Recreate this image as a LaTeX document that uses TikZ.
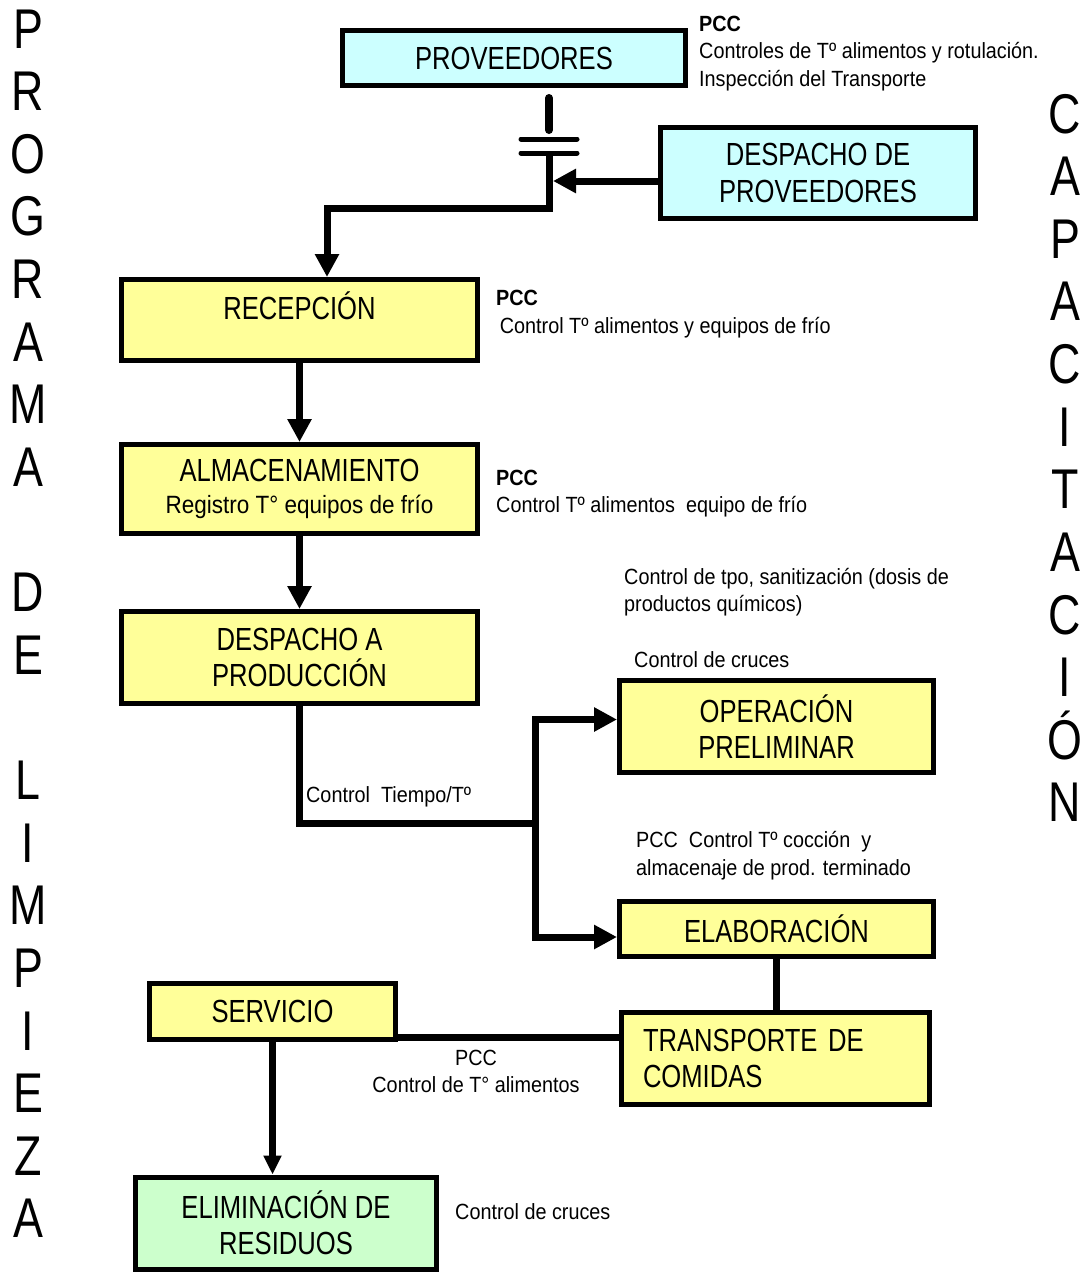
\documentclass[tikz,border=0pt]{standalone}
\usepackage{fontspec}
\setmainfont[FakeStretch=0.8]{Liberation Sans}
\newfontfamily\notefont[FakeStretch=0.9]{Liberation Sans}
\usetikzlibrary{arrows.meta}
\definecolor{yel}{HTML}{FFFF99}
\definecolor{cyanfill}{HTML}{CCFFFF}
\definecolor{grn}{HTML}{CCFFCC}
\newcommand\bigf{\fontsize{32}{36.5}\selectfont}
\newcommand\midf{\notefont\fontsize{25}{34}\selectfont}
\newcommand\smallf{\notefont\fontsize{22}{27.5}\selectfont}
\newcommand\sidef{\fontsize{56}{62}\selectfont}
\begin{document}
\begin{tikzpicture}[x=1pt,y=-1pt,
  box/.style={draw=black, line width=5pt, inner sep=0pt, align=center, font=\bigf},
  note/.style={inner sep=0pt, align=left, font=\smallf, anchor=west},
  side/.style={inner sep=0pt, font=\sidef, anchor=base},
  conn/.style={line width=7pt},
  arr/.style={conn, -{Triangle[length=23pt,width=23pt]}},
  arrs/.style={conn, -{Triangle[length=19pt,width=17pt]}}]
\useasboundingbox (0,0) rectangle (1085,1272);

% boxes
\node[box, fill=cyanfill, minimum width=343pt, minimum height=55pt] (prov) at (514,58) {PROVEEDORES};
\node[box, fill=cyanfill, minimum width=315pt, minimum height=91pt] (dprov) at (818,173) {DESPACHO DE\\PROVEEDORES};
\node[box, fill=yel, minimum width=356pt, minimum height=81pt, text depth=28pt] (recep) at (299.5,320) {RECEPCIÓN};
\node[box, fill=yel, minimum width=356pt, minimum height=89pt] (alma) at (299.5,489) {ALMACENAMIENTO\\[-4pt]{\midf Registro T° equipos de frío}};
\node[box, fill=yel, minimum width=356pt, minimum height=92pt] (dprod) at (299.5,657.5) {DESPACHO A\\PRODUCCIÓN};
\node[box, fill=yel, minimum width=314pt, minimum height=92pt] (oper) at (776.5,726.5) {OPERACIÓN\\PRELIMINAR};
\node[box, fill=yel, minimum width=314pt, minimum height=55pt] (elab) at (776.5,929) {ELABORACIÓN};
\node[box, fill=yel, minimum width=246pt, minimum height=56pt] (serv) at (272.5,1011.5) {SERVICIO};
\node[box, fill=yel, minimum width=308pt, minimum height=92pt, text width=265pt, align=left] (trans) at (775.5,1058.5) {TRANSPORTE DE\\COMIDAS};
\node[box, fill=grn, minimum width=301pt, minimum height=92pt] (elim) at (286,1223) {ELIMINACIÓN DE\\RESIDUOS};

% notes
\node[note] (n1) at (699,53.5) {\textbf{PCC}\\Controles de Tº alimentos y rotulación.\\Inspección del Transporte};
\node[note] (n2) at (496,314) {\textbf{PCC}\\ \,Control Tº alimentos y equipos de frío};
\node[note] (n3) at (496,493.5) {\textbf{PCC}\\Control Tº alimentos \ equipo de frío};
\node[note] (n4) at (624,592) {Control de tpo, sanitización (dosis de\\productos químicos)};
\node[note] (n5) at (634,660) {Control de cruces};
\node[note] (n6) at (306,797) {Control \ Tiempo/Tº};
\node[note] (n7) at (636,855.5) {PCC \ Control Tº cocción \ y\\almacenaje de prod. terminado};
\node[note, align=center, anchor=center] (n8) at (476,1071.5) {PCC\\Control de T° alimentos};
\node[note] (n9) at (455,1212) {Control de cruces};

% side texts
\foreach \c [count=\i] in {P,R,O,G,R,A,M,A,{},D,E,{},L,I,M,P,I,E,Z,A}
  \node[side] (L\i) at (28, {48+(\i-1)*62.63}) {\c};
\foreach \c [count=\i] in {C,A,P,A,C,I,T,A,C,I,Ó,N}
  \node[side] (R\i) at (1065, {133+(\i-1)*62.63}) {\c};

% connectors
\coordinate (capA) at (549,98);
\coordinate (capB) at (549,130);
\coordinate (barL1) at (521,139);
\coordinate (barR1) at (577,139);
\coordinate (barL2) at (521,153);
\coordinate (barR2) at (577,153);
\coordinate (capC) at (549,153);
\coordinate (capD) at (549,208);
\coordinate (jd) at (553,181);
\draw[line width=8pt, line cap=round] (capA) -- (capB);
\draw[line width=5pt, line cap=round] (barL1) -- (barR1);
\draw[line width=5pt, line cap=round] (barL2) -- (barR2);
\draw[arr] (capC) -- (capD) -| ([xshift=27.5pt]recep.north);
\draw[arr] (dprov.west |- jd) -- (jd);

\draw[arr] (recep.south) -- (alma.north);
\draw[arr] (alma.south) -- (dprod.north);
\coordinate (split) at (535,823);
\draw[conn] (dprod.south) |- (split);
\draw[arr] (split) |- ([yshift=7pt]oper.west);
\draw[arr] (split) |- ([yshift=-8pt]elab.west);
\draw[conn] (elab.south) -- (elab.south |- trans.north);
\coordinate (ts) at (0,1037);
\draw[conn] (serv.east |- ts) -- (trans.west |- ts);
\draw[arrs] (serv.south) -- (serv.south |- elim.north);
\end{tikzpicture}
\end{document}
